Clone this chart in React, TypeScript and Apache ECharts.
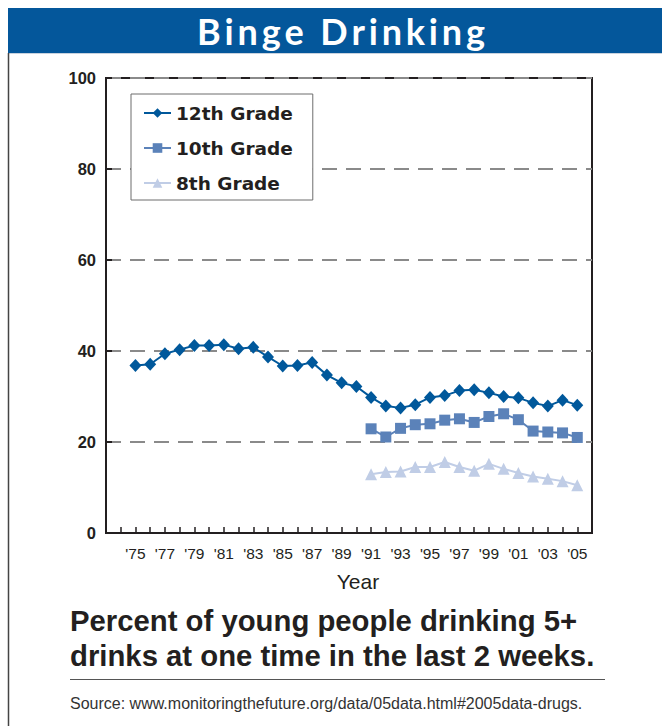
import React, { useEffect, useRef } from "react";
import * as echarts from "echarts";

const years = [1975, 1976, 1977, 1978, 1979, 1980, 1981, 1982, 1983, 1984, 1985, 1986, 1987, 1988, 1989, 1990, 1991, 1992, 1993, 1994, 1995, 1996, 1997, 1998, 1999, 2000, 2001, 2002, 2003, 2004, 2005];
const grade12 = [36.8, 37.1, 39.4, 40.3, 41.2, 41.2, 41.4, 40.5, 40.8, 38.7, 36.7, 36.8, 37.5, 34.7, 33.0, 32.2, 29.8, 27.9, 27.5, 28.2, 29.8, 30.2, 31.3, 31.5, 30.8, 30.0, 29.7, 28.6, 27.9, 29.2, 28.1];
const lateYears = [1991, 1992, 1993, 1994, 1995, 1996, 1997, 1998, 1999, 2000, 2001, 2002, 2003, 2004, 2005];
const grade10 = [22.9, 21.1, 23.0, 23.8, 24.0, 24.8, 25.1, 24.3, 25.6, 26.2, 24.9, 22.4, 22.2, 22.0, 21.0];
const grade8 = [12.9, 13.4, 13.5, 14.5, 14.5, 15.6, 14.5, 13.7, 15.2, 14.1, 13.2, 12.4, 11.9, 11.4, 10.5];
const seriesNames = ["12th Grade", "10th Grade", "8th Grade"];
const yTicks = [0, 20, 40, 60, 80, 100];

const TITLE = "Binge Drinking";
const SUB1 = "Percent of young people drinking 5+";
const SUB2 = "drinks at one time in the last 2 weeks.";
const SOURCE = "Source: www.monitoringthefuture.org/data/05data.html#2005data-drugs.";

const INK = "#231f20";

function txt(x: number, y: number, text: string, font: string, fill: string, align = "left", extra: any = {}) {
  return {
    type: "text",
    x,
    y,
    silent: true,
    ...extra,
    style: {
      text,
      font,
      fill,
      align,
      verticalAlign: "middle",
      textAlign: align,
      textVerticalAlign: "middle",
    },
  };
}

// Letter-spaced title: measure glyph widths and spread across the target span.
function spacedText(text: string, font: string, fill: string, cx: number, cy: number, span: number) {
  let widths: number[] = [];
  try {
    const ctx = document.createElement("canvas").getContext("2d") as CanvasRenderingContext2D;
    ctx.font = font;
    widths = text.split("").map((c) => ctx.measureText(c).width);
  } catch (e) {
    widths = text.split("").map(() => span / text.length);
  }
  const natural = widths.reduce((a, b) => a + b, 0);
  const gap = text.length > 1 ? (span - natural) / (text.length - 1) : 0;
  let x = cx - span / 2;
  const els: any[] = [];
  text.split("").forEach((c, i) => {
    if (c !== " ") els.push(txt(x, cy, c, font, fill, "left"));
    x += widths[i] + gap;
  });
  return els;
}

export default function App() {
  const ref = useRef<HTMLDivElement>(null);
  useEffect(() => {
    if (!ref.current) return;
    const chart = echarts.init(ref.current, undefined, { renderer: "svg" });
    const pair = (xs: number[], ys: number[]) => xs.map((x, i) => [x, ys[i]]);
    chart.setOption({
      animation: false,
      backgroundColor: "#ffffff",
      grid: {
        left: 106,
        right: 70,
        top: 78,
        bottom: 193,
        show: true,
        borderColor: INK,
        borderWidth: 2,
        backgroundColor: "transparent",
      },
      legend: {
        left: 131,
        top: 94,
        orient: "vertical",
        data: seriesNames,
        itemWidth: 27,
        itemHeight: 12,
        itemGap: 15,
        padding: [9, 20, 7, 12],
        borderColor: "#6d6d6d",
        borderWidth: 1,
        backgroundColor: "#ffffff",
        textStyle: {
          fontFamily: "DejaVu Sans",
          fontWeight: "bold",
          fontSize: 18.5,
          lineHeight: 20,
          color: INK,
        },
      },
      xAxis: {
        type: "value",
        min: 1973,
        max: 2006,
        interval: 1,
        axisLine: { show: true, lineStyle: { color: INK, width: 2 } },
        axisTick: { show: true, inside: true, length: 6, lineStyle: { color: INK, width: 1.5 } },
        splitLine: { show: false },
        axisLabel: {
          margin: 12,
          fontFamily: "Liberation Sans",
          fontSize: 15.5,
          color: INK,
          showMinLabel: true,
          showMaxLabel: true,
          formatter: (v: number) =>
            v >= 1975 && v <= 2005 && v % 2 === 1 ? "'" + String(v).slice(2) : "",
        },
      },
      yAxis: {
        type: "value",
        min: yTicks[0],
        max: yTicks[yTicks.length - 1],
        interval: 20,
        axisLine: { show: true, lineStyle: { color: INK, width: 2 } },
        axisTick: { show: true, inside: true, length: 6, lineStyle: { color: INK, width: 2 } },
        splitLine: { show: true, lineStyle: { color: "#8a8a8a", width: 2, type: [15, 9] } },
        axisLabel: {
          margin: 10,
          fontFamily: "Liberation Sans",
          fontWeight: "bold",
          fontSize: 16.5,
          color: INK,
        },
      },
      series: [
        {
          name: seriesNames[0],
          type: "line",
          data: pair(years, grade12),
          symbol: "diamond",
          symbolSize: [12, 13],
          color: "#00589b",
          lineStyle: { width: 2, color: "#00589b" },
          itemStyle: { color: "#00589b" },
          z: 5,
        },
        {
          name: seriesNames[1],
          type: "line",
          data: pair(lateYears, grade10),
          symbol: "rect",
          symbolSize: 11,
          color: "#5b82b9",
          lineStyle: { width: 2, color: "#5b82b9" },
          itemStyle: { color: "#5b82b9" },
          z: 4,
        },
        {
          name: seriesNames[2],
          type: "line",
          data: pair(lateYears, grade8),
          symbol: "triangle",
          symbolSize: 12,
          color: "#c0cde6",
          lineStyle: { width: 2, color: "#c0cde6" },
          itemStyle: { color: "#c0cde6" },
          z: 3,
        },
      ],
      graphic: [
        { type: "rect", shape: { x: 8, y: 8, width: 654, height: 45 }, style: { fill: "#04579b" }, silent: true },
        { type: "line", shape: { x1: 8, y1: 53.5, x2: 662, y2: 53.5 }, style: { stroke: "#c8d2de", lineWidth: 1 }, silent: true },
        { type: "line", shape: { x1: 8.5, y1: 53, x2: 8.5, y2: 726 }, style: { stroke: "#444444", lineWidth: 1.5 }, silent: true },
        ...spacedText(TITLE, "bold 36px Lato", "#ffffff", 341, 31, 288),
        txt(358, 581, "Year", "21px 'Liberation Sans'", INK, "center"),
        txt(70, 620, SUB1, "bold 29.3px 'Liberation Sans'", INK, "left"),
        txt(70, 655, SUB2, "bold 29.3px 'Liberation Sans'", INK, "left"),
        { type: "line", shape: { x1: 70, y1: 679.5, x2: 605, y2: 679.5 }, style: { stroke: "#555555", lineWidth: 1 }, silent: true },
        txt(70, 703, SOURCE, "16px 'Liberation Sans'", "#333333", "left"),
      ],
    });
    return () => chart.dispose();
  }, []);
  return <div ref={ref} style={{ position: "absolute", left: 0, top: 0, width: 662, height: 726 }} />;
}
